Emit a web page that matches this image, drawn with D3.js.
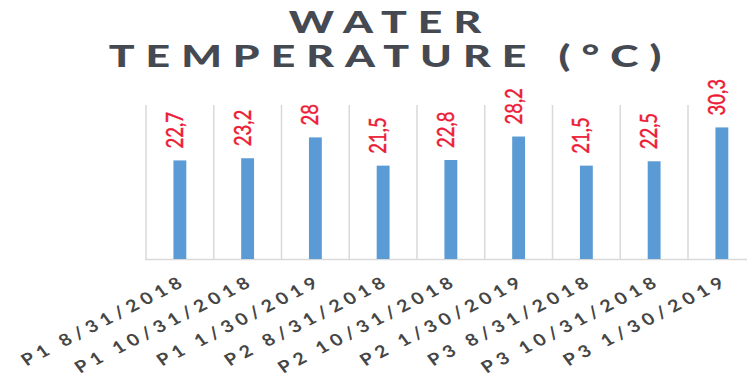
<!DOCTYPE html>
<html><head><meta charset="utf-8">
<script src="https://cdn.jsdelivr.net/npm/d3@7"></script>
<style>html,body{margin:0;padding:0;background:#fff;}svg{display:block;}</style>
</head><body>
<svg id="chart" width="747" height="377"></svg>
<script>
const categories = ["P1 8/31/2018","P1 10/31/2018","P1 1/30/2019","P2 8/31/2018","P2 10/31/2018","P2 1/30/2019","P3 8/31/2018","P3 10/31/2018","P3 1/30/2019"];
const values = [22.7, 23.2, 28, 21.5, 22.8, 28.2, 21.5, 22.5, 30.3];
const valueLabels = ["22,7","23,2","28","21,5","22,8","28,2","21,5","22,5","30,3"];
const titleLines = ["WATER", "TEMPERATURE (°C)"];
const yDomain = [0, 35];

const svg = d3.select("#chart");
const SX = 1.2; // horizontal stretch of text seen in the picture

const x = d3.scaleBand().domain(categories).range([146, 146 + 9 * 67.75]).padding(0);
const y = d3.scaleLinear().domain(yDomain).range([259, 107]);

// vertical gridlines at category boundaries
const edges = categories.map(c => x(c)).concat([x(categories[categories.length-1]) + x.bandwidth()]);
svg.append("g").selectAll("line").data(edges).join("line")
  .attr("x1", d => d).attr("x2", d => d)
  .attr("y1", y(yDomain[1]) - 2).attr("y2", y(0))
  .attr("stroke", "#d9d9d9").attr("stroke-width", 1.5);

// baseline
svg.append("line").attr("x1", 145).attr("x2", 747).attr("y1", y(0) + 0.5).attr("y2", y(0) + 0.5)
  .attr("stroke", "#d9d9d9").attr("stroke-width", 1.5);

// bars
const bw = x.bandwidth() * 0.19;
svg.append("g").selectAll("rect").data(values).join("rect")
  .attr("x", (d, i) => x(categories[i]) + x.bandwidth() / 2 - bw / 2)
  .attr("y", d => y(d))
  .attr("width", bw)
  .attr("height", d => y(0) - y(d))
  .attr("fill", "#5b9bd5");

// value labels
svg.append("g").selectAll("text").data(values).join("text")
  .attr("transform", (d, i) => `translate(${x(categories[i]) + x.bandwidth() / 2 + 3},${y(d) - 12}) scale(${SX},1) rotate(-90)`)
  .attr("font-family", "Lato, 'Noto Sans', sans-serif")
  .attr("font-size", 18.5)
  .attr("stroke", "#ec1a36").attr("stroke-width", 0.4)
  .attr("fill", "#ec1a36")
  .text((d, i) => valueLabels[i]);

// x labels
svg.append("g").selectAll("text").data(categories).join("text")
  .attr("transform", d => `translate(${x(d) + x.bandwidth() / 2 + 8},284) scale(${SX},1) rotate(-31.5)`)
  .attr("text-anchor", "end")
  .attr("font-family", "Lato, 'Noto Sans', sans-serif")
  .attr("font-weight", 700)
  .attr("font-size", 16.5)
  .attr("letter-spacing", "4.3px")
  .attr("fill", "#454545")
  .text(d => d);

// title
const titleY = [33, 67];
svg.append("g").selectAll("text").data(titleLines).join("text")
  .attr("transform", (d, i) => `translate(385,${titleY[i]}) scale(1.38,1)`)
  .attr("text-anchor", "middle")
  .attr("dx", 4)
  .attr("font-family", "Lato, 'Noto Sans', sans-serif")
  .attr("font-weight", 900)
  .attr("font-size", 31)
  .attr("letter-spacing", "8px")
  .attr("fill", "#454a52")
  .text(d => d);
</script>
</body></html>
